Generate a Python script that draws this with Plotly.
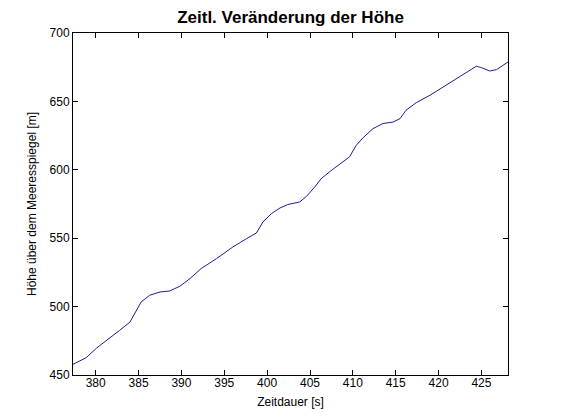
import plotly.graph_objects as go

# Zeitdauer [s]
zeit = [377.35, 378.9, 380.1, 381.6, 382.8, 384.0, 384.75, 385.3, 386.3, 387.5,
        388.6, 389.8, 391.0, 391.9, 392.3, 394.1, 396.0, 397.6, 398.75, 399.5,
        400.5, 401.5, 402.4, 403.8, 404.6, 405.55, 406.3, 407.4, 408.5, 409.6,
        410.4, 411.2, 412.35, 413.5, 414.7, 415.5, 416.2, 417.4, 419.0, 420.5,
        421.9, 423.2, 424.4, 425.0, 425.95, 426.75, 428.1]
# Höhe über dem Meeresspiegel [m]
hoehe = [457.8, 462.7, 469.7, 476.6, 482.7, 488.7, 497.3, 503.4, 508.3, 510.7,
         511.4, 514.8, 520.5, 526.0, 527.8, 535.1, 543.6, 549.7, 553.8, 561.8,
         568.0, 572.1, 574.6, 576.5, 580.6, 587.4, 593.5, 599.1, 604.5, 609.4,
         617.9, 623.5, 630.1, 633.8, 634.9, 637.4, 643.5, 649.1, 654.5, 660.5,
         665.9, 670.8, 675.7, 674.7, 672.2, 673.2, 678.8]

x_ticks = [380, 385, 390, 395, 400, 405, 410, 415, 420, 425]
y_ticks = [450, 500, 550, 600, 650, 700]

fig = go.Figure()
fig.add_trace(go.Scatter(x=zeit, y=hoehe, mode="lines",
                         line=dict(color="#1c1c9c", width=1)))

font = "Liberation Sans, Arial, sans-serif"
axis_common = dict(showline=True, linecolor="black", linewidth=1, mirror="ticks",
                   ticks="inside", ticklen=5, tickcolor="black", showgrid=False,
                   zeroline=False, tickfont=dict(family=font, size=12, color="black"))

fig.update_layout(
    width=561, height=420,
    paper_bgcolor="white", plot_bgcolor="white",
    margin=dict(l=65, r=61, t=25, b=53),
    showlegend=False,
    title=dict(text="<b>Zeitl. Veränderung der Höhe</b>", x=0.5036, xanchor="center",
               y=0.979, yanchor="middle",
               font=dict(family=font, size=17, color="black")),
    xaxis=dict(range=[377.35, 428.1], tickvals=x_ticks, ticklabelstandoff=-3,
               title=dict(text="Zeitdauer [s]", standoff=8,
                          font=dict(family=font, size=12, color="black")),
               **axis_common),
    yaxis=dict(range=[450, 700], tickvals=y_ticks,
               title=dict(text="Höhe über dem Meeresspiegel [m]", standoff=10,
                          font=dict(family=font, size=12, color="black")),
               **axis_common),
)

fig.write_html("out.html")
